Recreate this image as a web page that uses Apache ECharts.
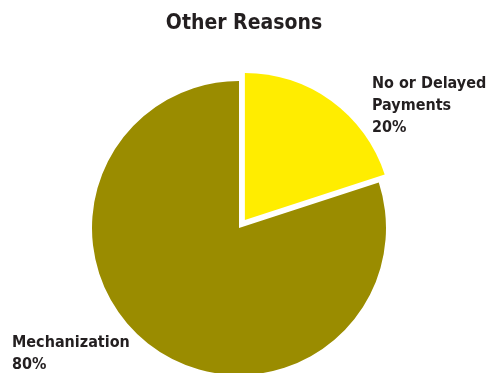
<!DOCTYPE html>
<html><head><meta charset="utf-8">
<script src="https://cdn.jsdelivr.net/npm/echarts@6/dist/echarts.min.js"></script>
<style>html,body{margin:0;padding:0;background:#fff}#c{width:488px;height:373px}</style>
</head><body><div id="c"></div>
<script>
const title = 'Other Reasons';
const categories = ['No or Delayed\nPayments', 'Mechanization'];
const values = [20, 80];
const colors = ['#FFED00', '#9A8C00'];
const font = '"DejaVu Sans Condensed","Liberation Sans Narrow",sans-serif';
const labelPos = [[372, 73], [12, 332]];
const chart = echarts.init(document.getElementById('c'));
chart.setOption({
  animation: false,
  title: { text: title, left: 'center', top: 8, itemGap: 0, textStyle: { fontFamily: font, fontWeight: 'bold', fontSize: 21, color: '#231f20' } },
  graphic: categories.map((c, i) => ({
    type: 'text', left: labelPos[i][0], top: labelPos[i][1], z: 10,
    style: { text: c + '\n' + values[i] + '%', font: 'bold 16px ' + font, lineHeight: 22, fill: '#231f20' }
  })),
  series: [{
    type: 'pie',
    center: [239, 228],
    radius: 147,
    startAngle: 90,
    clockwise: true,
    selectedMode: 'single',
    selectedOffset: 10,
    emphasis: { disabled: true },
    data: categories.map((c, i) => ({ name: c, value: values[i], selected: i === 0, itemStyle: { color: colors[i] } })),
    label: { show: false },
    labelLine: { show: false }
  }]
});
</script></body></html>
